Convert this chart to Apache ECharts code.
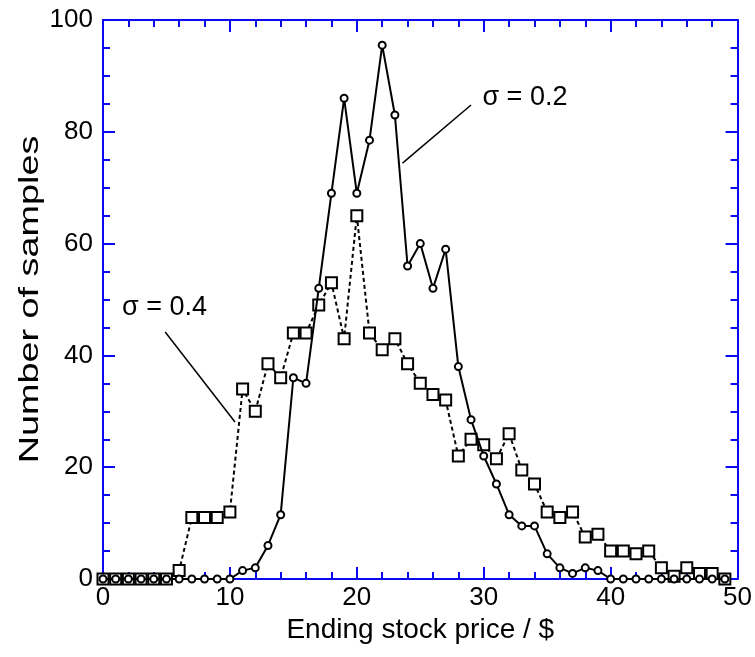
<!DOCTYPE html>
<html>
<head>
<meta charset="utf-8">
<script src="https://cdn.jsdelivr.net/npm/echarts@6/dist/echarts.min.js"></script>
<style>
  html, body { margin: 0; padding: 0; background: #fff; }
  #chart { width: 755px; height: 657px; }
</style>
</head>
<body>
<div id="chart"></div>
<script>
// ending price bins ($)
var prices = [];
for (var p = 0; p < 50; p++) prices.push(p);

// number of samples per bin, sigma = 0.2 (circles, solid)
var sigma02 = [
  0, 0, 0, 0, 0, 0, 0, 0, 0, 0,
  0, 1.5, 2, 6, 11.5, 36, 35, 52, 69, 86,
  69, 78.5, 95.5, 83, 56, 60, 52, 59, 38, 28.5,
  22, 17, 11.5, 9.5, 9.5, 4.5, 2, 1, 2, 1.5,
  0, 0, 0, 0, 0, 0, 0, 0, 0, 0
];

// number of samples per bin, sigma = 0.4 (squares, dotted)
var sigma04 = [
  0, 0, 0, 0, 0, 0, 1.5, 11, 11, 11,
  12, 34, 30, 38.5, 36, 44, 44, 49, 53, 43,
  65, 44, 41, 43, 38.5, 35, 33, 32, 22, 25,
  24, 21.5, 26, 19.5, 17, 12, 11, 12, 7.5, 8,
  5, 5, 4.5, 5, 2, 0.5, 2, 1, 1, 0
];

var xTicks = [0, 10, 20, 30, 40, 50];
var yTicks = [0, 20, 40, 60, 80, 100];

// labels with leader lines, in data coordinates
var labelTexts = ['σ = 0.2', 'σ = 0.4'];
var labelAt = [[29.9, 86.2], [1.5, 48.5]];
var leaderFrom = [[29.0, 84.8], [4.9, 44.2]];
var leaderTo = [[23.6, 74.4], [10.4, 28.1]];

var yTitle = 'Number of samples';

var blue = '#0a0af0';
var font = "'Liberation Sans', Arial, sans-serif";

function pairs(ys) {
  return ys.map(function (v, i) { return [prices[i], v]; });
}

var myChart = echarts.init(document.getElementById('chart'));

function boxAxis(pos, isX, show) {
  var ax = {
    type: 'value',
    position: pos,
    min: isX ? xTicks[0] : yTicks[0],
    max: isX ? xTicks[xTicks.length - 1] : yTicks[yTicks.length - 1],
    interval: isX ? 10 : 20,
    axisLine: { show: true, onZero: false, lineStyle: { color: blue, width: 2 } },
    axisTick: { show: true, inside: true, length: 12, lineStyle: { color: blue, width: 2 } },
    minorTick: { show: true, splitNumber: isX ? 5 : 4, length: 7, lineStyle: { color: blue, width: 2 } },
    splitLine: { show: false },
    minorSplitLine: { show: false },
    axisLabel: {
      show: show,
      color: '#000',
      fontFamily: font,
      fontSize: 26,
      margin: isX ? 6 : 10
    }
  };
  return ax;
}

var xMain = boxAxis('bottom', true, true);
xMain.name = 'Ending stock price / $';
xMain.nameLocation = 'middle';
xMain.nameGap = 36;
xMain.nameTextStyle = { color: '#000', fontFamily: font, fontSize: 28 };

myChart.setOption({
  animation: false,
  backgroundColor: '#fff',
  grid: { left: 103, right: 16, top: 20, bottom: 78 },
  xAxis: [xMain, boxAxis('top', true, false)],
  yAxis: [boxAxis('left', false, true), boxAxis('right', false, false)],
  series: [
    {
      name: 'σ = 0.4',
      type: 'line',
      data: pairs(sigma04),
      symbol: 'rect',
      symbolSize: 11,
      itemStyle: { color: '#fff', borderColor: '#000', borderWidth: 2 },
      lineStyle: { color: '#000', width: 2, type: [4, 3] },
      z: 2
    },
    {
      name: 'σ = 0.2',
      type: 'line',
      data: pairs(sigma02),
      symbol: 'circle',
      symbolSize: 7,
      itemStyle: { color: '#fff', borderColor: '#000', borderWidth: 2 },
      lineStyle: { color: '#000', width: 2 },
      z: 3
    }
  ]
});

// leader lines and their labels, placed through the axes
var els = [];
for (var i = 0; i < labelTexts.length; i++) {
  var a = myChart.convertToPixel({ gridIndex: 0 }, leaderFrom[i]);
  var b = myChart.convertToPixel({ gridIndex: 0 }, leaderTo[i]);
  var t = myChart.convertToPixel({ gridIndex: 0 }, labelAt[i]);
  els.push({
    type: 'line',
    shape: { x1: a[0], y1: a[1], x2: b[0], y2: b[1] },
    style: { stroke: '#000', lineWidth: 1.5 },
    z: 10
  });
  els.push({
    type: 'text',
    x: t[0],
    y: t[1],
    style: {
      text: labelTexts[i],
      fill: '#000',
      font: '27px ' + font,
      textAlign: 'left',
      textVerticalAlign: 'middle'
    },
    z: 10
  });
}

// y axis title: the original is stretched along its length
var mid = myChart.convertToPixel({ gridIndex: 0 }, [0, 50]);
els.push({
  type: 'text',
  x: 30,
  y: mid[1],
  rotation: Math.PI / 2,
  scaleX: 1.35,
  style: {
    text: yTitle,
    fill: '#000',
    font: '28px ' + font,
    textAlign: 'center',
    textVerticalAlign: 'middle'
  },
  z: 10
});
myChart.setOption({ graphic: els });
</script>
</body>
</html>
